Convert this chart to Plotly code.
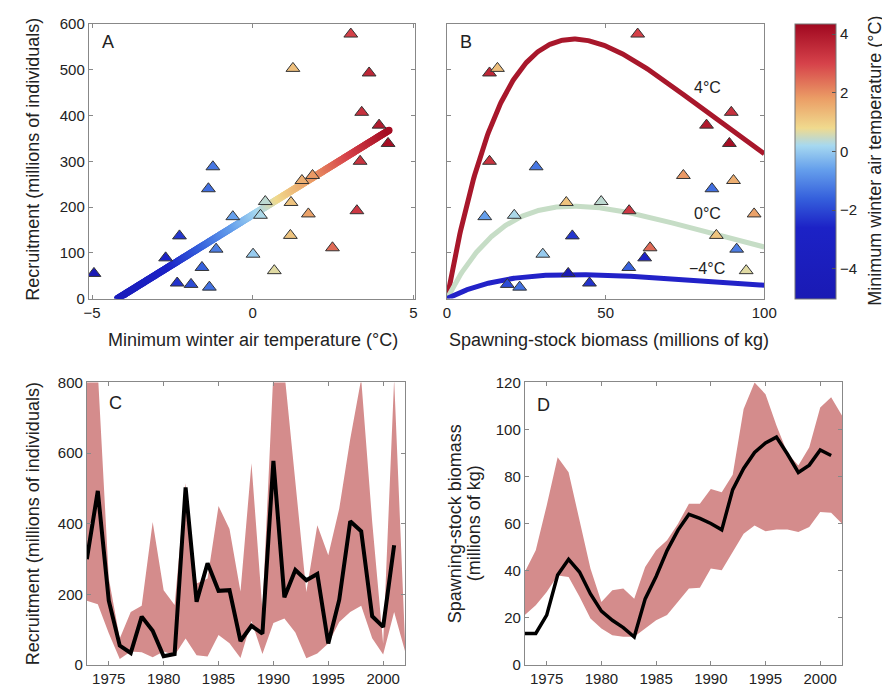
import numpy as np
import plotly.graph_objects as go

# ---------------- data ----------------
years = list(range(1973, 2002))
temperature = [3.34, 3.62, 0.24, -4.94, -2.35, -2.28, 0.01, -1.35, -1.92, 1.25,
               -0.62, -1.24, 1.19, 0.39, -1.58, 2.48, -2.71, 3.05, 3.24, 1.86,
               -1.38, 1.53, 0.67, 1.73, 3.39, 3.93, 1.17, -1.14, 4.21]
recruitment = [300, 493, 182, 55, 34, 137, 97, 25, 31, 503,
               179, 288, 210, 212, 68, 111, 89, 578, 192, 269,
               240, 258, 61, 185, 407, 379, 138, 108, 339]
ssb = [13.4, 13.4, 21.2, 38.2, 44.9, 39.5, 30.2, 22.9, 19.0, 15.9,
       11.9, 28.1, 37.6, 48.6, 57.3, 64.0, 62.3, 60.1, 57.4, 74.5,
       83.5, 90.3, 94.3, 96.8, 89.6, 81.8, 84.9, 91.3, 89.0]

band_years = list(range(1973, 2003))
rec_upper = [830, 830, 246, 75, 150, 168, 405, 212, 170, 515,
             231, 245, 450, 385, 208, 571, 155, 830, 830, 520,
             207, 396, 311, 443, 640, 810, 406, 60, 810, 60]
rec_lower = [182, 172, 90, 17, 38, 36, 22, 38, 28, 75,
             28, 24, 85, 62, 20, 125, 31, 119, 132, 92,
             19, 33, 61, 122, 150, 168, 76, 30, 150, 38]
ssb_upper = [39.5, 48.7, 67.8, 88.2, 81.9, 62.0, 41.0, 26.8, 31.8, 32.5,
             28.2, 41.6, 48.7, 53.0, 60.0, 68.5, 68.5, 74.8, 73.4, 80.8,
             108.7, 120.0, 115.0, 101.7, 90.0, 84.7, 92.5, 109.4, 113.7, 105.9]
ssb_lower = [21.2, 25.4, 31.0, 38.0, 37.4, 29.0, 19.8, 15.5, 12.7, 12.0,
             12.0, 15.5, 19.0, 21.2, 27.0, 32.5, 32.8, 41.0, 40.2, 48.0,
             55.8, 59.3, 56.8, 57.6, 57.6, 56.5, 58.6, 65.0, 64.7, 60.0]

# model parameters (fitted relationships shown in A and B)
reg_temp_range = [-4.21, 4.24]
reg_intercept = 183.3
reg_slope = 43.55
curve_temps = [4, 0, -4]
curve_labels = ["4°C", "0°C", "−4°C"]
curve_peaks = [567, 202, 52.5]
curve_colors = ["#a8172b", "#c6ddc6", "#2222c8"]
peak_ssb = 40.0
label_pos = [(82, 462), (82, 185), (82, 66)]

cmin, cmax = -5.03, 4.35
def t(v):
    return (v - cmin) / (cmax - cmin)
colorscale = [
    [0.0, "#1a1ab4"], [t(-2.6), "#1c22c6"], [t(-1.6), "#3560dc"],
    [t(-0.6), "#66a0ec"], [t(0.2), "#a6d8f0"], [t(0.8), "#f0da8e"],
    [t(1.8), "#eb9e66"], [t(3.0), "#d6424a"], [1.0, "#a00820"],
]

FONT = "Liberation Sans, Arial, sans-serif"
TXT = "#222222"
TICK = 15
TITLE = 18
W, H = 890, 688
# measured placement of the figure in the captured page
OFFX, OFFY, VW, VH = 8, 16, 874, 672
def px(x):
    return min(max((x - OFFX) / VW, 0.0), 1.0)
def py(y):
    return min(max(1 - (y - OFFY) / VH, 0.0), 1.0)

band_color = "rgb(212,140,140)"

fig = go.Figure()

# ---- Panel A ----
reg_t = np.linspace(reg_temp_range[0], reg_temp_range[1], 400)
fig.add_trace(go.Scatter(
    x=reg_t, y=reg_intercept + reg_slope * reg_t, mode="markers",
    marker=dict(size=7, color=reg_t, coloraxis="coloraxis", line=dict(width=0)),
    xaxis="x", yaxis="y", showlegend=False, hoverinfo="skip"))
fig.add_trace(go.Scatter(
    x=temperature, y=recruitment, mode="markers",
    marker=dict(symbol="triangle-up", size=12, color=temperature, coloraxis="coloraxis",
                line=dict(width=1, color="#333")),
    xaxis="x", yaxis="y", showlegend=False))

# ---- Panel B ----
s = np.linspace(0, 100, 300)
for temp, peak, col in zip(curve_temps, curve_peaks, curve_colors):
    r = peak * (s / peak_ssb) * np.exp(1 - s / peak_ssb)
    fig.add_trace(go.Scatter(x=s, y=r, mode="lines", line=dict(color=col, width=5),
                             xaxis="x2", yaxis="y2", showlegend=False))
fig.add_trace(go.Scatter(
    x=ssb, y=recruitment, mode="markers",
    marker=dict(symbol="triangle-up", size=12, color=temperature, coloraxis="coloraxis",
                line=dict(width=1, color="#333")),
    xaxis="x2", yaxis="y2", showlegend=False))

# ---- Panel C ----
fig.add_trace(go.Scatter(
    x=band_years + band_years[::-1], y=rec_upper + rec_lower[::-1],
    fill="toself", fillcolor=band_color, line=dict(width=0), mode="lines",
    xaxis="x3", yaxis="y3", showlegend=False))
fig.add_trace(go.Scatter(x=years, y=recruitment, mode="lines",
                         line=dict(color="black", width=4),
                         xaxis="x3", yaxis="y3", showlegend=False))

# ---- Panel D ----
fig.add_trace(go.Scatter(
    x=band_years + band_years[::-1], y=ssb_upper + ssb_lower[::-1],
    fill="toself", fillcolor=band_color, line=dict(width=0), mode="lines",
    xaxis="x4", yaxis="y4", showlegend=False))
fig.add_trace(go.Scatter(x=years, y=ssb, mode="lines",
                         line=dict(color="black", width=3.5),
                         xaxis="x4", yaxis="y4", showlegend=False))

def axis(dom, rng, tickvals, labels=True, anchor=None, horiz=True):
    d = dict(range=rng, tickvals=tickvals, showticklabels=labels,
             ticks="inside", ticklen=4, tickcolor="#888", tickwidth=1,
             showline=True, linecolor="#888", linewidth=1, mirror="ticks",
             showgrid=False, zeroline=False,
             tickfont=dict(family=FONT, size=TICK, color=TXT),
             anchor=anchor)
    if horiz:
        d["domain"] = [px(dom[0]), px(dom[1])]
    else:
        d["domain"] = [py(dom[1]), py(dom[0])]
    return d

TOP = 23
yr_ticks = [1975, 1980, 1985, 1990, 1995, 2000]
fig.update_layout(
    width=W, height=H, margin=dict(l=0, r=0, t=0, b=0),
    paper_bgcolor="white", plot_bgcolor="white",
    font=dict(family=FONT, color=TXT),
    xaxis=axis((84, 411), [-5.1, 5.05], [-5, 0, 5], anchor="y"),
    yaxis=axis((TOP, 298), [0, 600], [0, 100, 200, 300, 400, 500, 600], anchor="x", horiz=False),
    xaxis2=axis((443, 761), [0, 100], [0, 50, 100], anchor="y2"),
    yaxis2=axis((TOP, 298), [0, 600], [0, 100, 200, 300, 400, 500, 600], labels=False, anchor="x2", horiz=False),
    xaxis3=axis((82, 401), [1973, 2002], yr_ticks, anchor="y3"),
    yaxis3=axis((382, 665), [0, 800], [0, 200, 400, 600, 800], anchor="x3", horiz=False),
    xaxis4=axis((521, 839), [1973, 2002], yr_ticks, anchor="y4"),
    yaxis4=axis((382, 665), [0, 120], [0, 20, 40, 60, 80, 100, 120], anchor="x4", horiz=False),
    coloraxis=dict(
        colorscale=colorscale, cmin=cmin, cmax=cmax,
        colorbar=dict(
            x=px(792), xanchor="left", y=py(TOP), yanchor="top",
            len=(298 - TOP) / VH, lenmode="fraction", thickness=41, thicknessmode="pixels",
            xpad=0, ypad=0, outlinewidth=1, outlinecolor="#777",
            ticks="inside", ticklen=4, tickcolor="#555",
            tickvals=[-4, -2, 0, 2, 4],
            tickfont=dict(family=FONT, size=TICK, color=TXT),
        ),
    ),
)

ann = []
def note(text, x, y, size=TITLE, angle=0):
    ann.append(dict(text=text, x=px(x), y=py(y), xref="paper", yref="paper",
                    showarrow=False, textangle=angle,
                    font=dict(family=FONT, size=size, color=TXT),
                    xanchor="center", yanchor="middle"))

note("Minimum winter air temperature (°C)", 249, 339)
note("Spawning-stock biomass (millions of kg)", 605, 339)
note("Recruitment (millions of individuals)", 28, 158, angle=-90)
note("Recruitment (millions of individuals)", 28, 523, angle=-90)
note("Spawning-stock biomass", 451, 523, angle=-90)
note("(millions of kg)", 470, 523, angle=-90)
note("Minimum winter air temperature (°C)", 872, 160, angle=-90)
note("A", 103, 41, size=18)
note("B", 462, 41, size=18)
note("C", 111, 403, size=18)
note("D", 540, 405, size=18)
for lbl, (sx, ry) in zip(curve_labels, label_pos):
    ann.append(dict(text=lbl, x=sx, y=ry, xref="x2", yref="y2", showarrow=False,
                    font=dict(family=FONT, size=16, color=TXT)))
fig.update_layout(annotations=ann)

fig.write_html("out.html", config={"displayModeBar": False})
